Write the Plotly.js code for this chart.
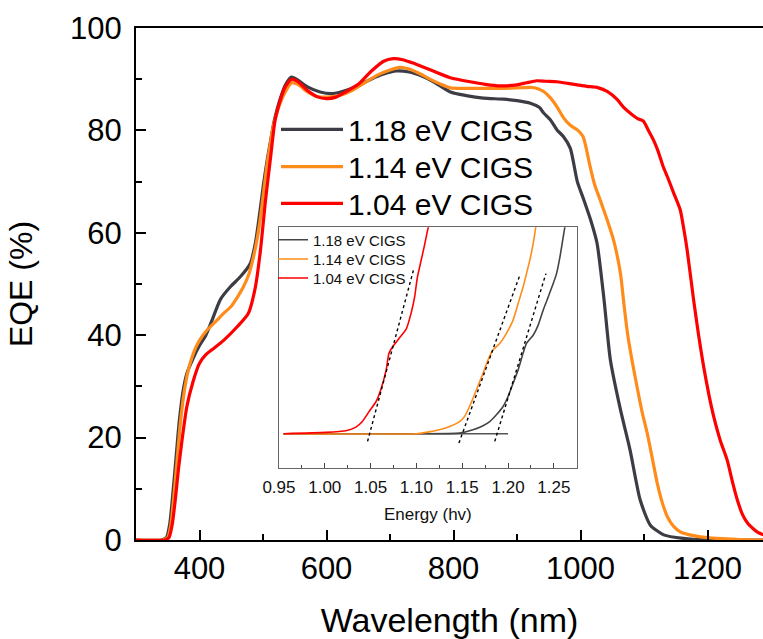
<!DOCTYPE html>
<html>
<head>
<meta charset="utf-8">
<script src="https://cdn.plot.ly/plotly-3.0.1.min.js"></script>
<style>html,body{margin:0;padding:0;background:#fff;overflow:hidden}#chart{width:763px;height:639px}</style>
</head>
<body>
<div id="chart"></div>
<script>
// ---- Main EQE data (wavelength nm, EQE %) ----
const wlGray = [300,340,348,353,358,363,368,374,380,390,400,410,420,433,449,465,480,488,495,501,507,512,517,522,528,535,545,555,570,590,610,630,650,670,690,710,730,750,770,795,820,847,879,900,921,935,942,953,963,973,984,995,1005,1016,1026,1037,1047,1063,1078,1094,1110,1131,1162,1200,1288];
const eqeGray = [0,0,0.5,3,9,16,23,29,32.5,35.5,38,40,43,47,49.5,51.5,54,58,64,69.7,74.5,78,81.5,84,86.5,88.8,90.4,89.8,88.5,87.5,87.2,87.8,88.8,90,91,91.6,91.4,90.6,89.4,87.5,86.8,86.3,86.1,85.8,85.3,84.5,83.4,82,80.1,78.8,76.5,70,66.5,62.5,58,47,35.2,25.4,17.6,7.8,2.9,1.0,0.3,0,0];

const wlOrange = [300,342,350,355,360,365,370,376,382,392,400,412,428,440,449,460,469,478,485,491,496,501,506,511,516,521,527,535,545,555,570,585,600,620,640,660,680,700,715,730,745,760,780,795,820,847,875,900,921,932,942,953,963,973,984,995,1004,1015,1022,1031,1042,1052,1063,1068,1074,1082,1090,1097,1105,1113,1121,1129,1137,1147,1157,1172,1189,1215,1250,1288];
const eqeOrange = [0,0,0.5,3,9,16,23,29,33,37,39,41,43,44.5,45.5,47.5,49.4,52,55.3,59,63,68,73,77,80.7,83,85.3,87.5,89.3,89,87.5,86.6,86.5,86.8,87.8,89.3,90.8,91.8,92.3,92,91.2,90.2,89,88.3,88.2,88.2,88.2,88.3,88.4,88.2,87.6,86.3,84.6,82.5,81,80.1,78.8,73,69.5,66.4,62.5,58.6,52,46.5,40.4,34.5,29.3,25,20.9,16,11,7.2,4.5,2.6,1.6,1.0,0.6,0.3,0.1,0];

const wlRed = [300,345,352,357,362,367,373,380,390,400,410,420,438,459,477,488,496,504,512,519,527,535,545,555,570,585,600,615,630,650,670,690,705,720,735,750,770,795,826,850,873,900,915,931,945,963,980,995,1010,1026,1042,1058,1068,1078,1090,1099,1107,1115,1122,1130,1137,1146,1157,1163,1168,1178,1186,1194,1202,1210,1220,1231,1240,1247,1255,1263,1272,1278,1288];
const eqeRed = [0,0,0.5,3,8,14,20,26,31,34.5,36.2,37.2,39,41.6,44.3,49.4,56.6,66.4,74.8,82,85.8,88.5,90,89.5,87.8,86.6,86.2,86.5,87.5,89,91.5,93.5,94,93.8,93.2,92.5,91.5,90.3,89.5,89,88.7,88.9,89.3,89.7,89.6,89.5,89.2,88.9,88.6,88.4,87.6,86,84.5,83.4,82.3,81.8,80,78.1,76,73,70.9,68,64.5,60.5,56.6,47,40,33.8,28.5,24,19.5,15.6,11,7.8,5,3.3,2.2,1.6,1.0];

// ---- Inset data (photon energy eV, normalised signal) ----
const eGrayIn = [0.955,1.10,1.1471,1.1617,1.1727,1.18,1.1873,1.1946,1.20,1.2055,1.211,1.2164,1.2201,1.2274,1.2329,1.2383,1.2438,1.2493,1.2529,1.2566,1.2602,1.262,1.264];
const vGrayIn = [0,0,0.003,0.019,0.039,0.059,0.092,0.132,0.18,0.244,0.309,0.389,0.437,0.477,0.526,0.598,0.662,0.727,0.775,0.855,0.952,1.0,1.04];
const eOrangeIn = [0.955,1.0997,1.1106,1.1252,1.1362,1.1471,1.1526,1.158,1.1654,1.1727,1.1781,1.1836,1.1909,1.1982,1.2055,1.211,1.2164,1.2201,1.2237,1.2274,1.2303,1.232];
const vOrangeIn = [0,0,0.0064,0.019,0.035,0.059,0.084,0.132,0.212,0.293,0.357,0.405,0.437,0.486,0.55,0.63,0.71,0.775,0.839,0.92,1.0,1.04];
const eRedIn = [0.955,1.001,1.023,1.034,1.041,1.0485,1.056,1.061,1.067,1.070,1.074,1.081,1.089,1.094,1.098,1.101,1.105,1.109,1.112,1.116];
const vRedIn = [0,0.0064,0.0145,0.032,0.059,0.108,0.156,0.212,0.309,0.389,0.421,0.461,0.508,0.580,0.660,0.756,0.836,0.916,0.981,1.05];
const eBase = [0.955,1.20];
const vBase = [0,0];
// tangent (extrapolation) lines
const eTanRed = [1.0467,1.0967], vTanRed = [-0.037,0.791];
const eTanOrange = [1.1464,1.2128], vTanOrange = [-0.045,0.767];
const eTanGray = [1.1855,1.2413], vTanGray = [-0.037,0.775];

const names = ['1.18 eV CIGS','1.14 eV CIGS','1.04 eV CIGS'];
const cGray = '#3c3c44', cOrange = '#ff8c1a', cRed = '#ff0000';
const FONT = 'Liberation Sans, Arial, sans-serif';

const traces = [
  {x: wlGray, y: eqeGray, name: names[0], legend:'legend', mode:'lines', line:{color:cGray,width:3.2,shape:'spline',smoothing:0.6}},
  {x: wlOrange, y: eqeOrange, name: names[1], legend:'legend3', mode:'lines', line:{color:cOrange,width:3.2,shape:'spline',smoothing:0.6}},
  {x: wlRed, y: eqeRed, name: names[2], legend:'legend4', mode:'lines', line:{color:cRed,width:3.2,shape:'spline',smoothing:0.6}},
  {x: eBase, y: vBase, xaxis:'x2', yaxis:'y2', mode:'lines', showlegend:false, line:{color:'#555',width:1.5}, hoverinfo:'skip'},
  {x: eGrayIn, y: vGrayIn, xaxis:'x2', yaxis:'y2', name: names[0], legend:'legend2', mode:'lines', line:{color:'#444',width:1.6,shape:'spline',smoothing:0.5}},
  {x: eOrangeIn, y: vOrangeIn, xaxis:'x2', yaxis:'y2', name: names[1], legend:'legend5', mode:'lines', line:{color:cOrange,width:1.6,shape:'spline',smoothing:0.5}},
  {x: eRedIn, y: vRedIn, xaxis:'x2', yaxis:'y2', name: names[2], legend:'legend6', mode:'lines', line:{color:cRed,width:1.6,shape:'spline',smoothing:0.5}},
  {x: eTanRed, y: vTanRed, xaxis:'x2', yaxis:'y2', mode:'lines', showlegend:false, line:{color:'#000',width:1.4,dash:'3px,3px'}},
  {x: eTanOrange, y: vTanOrange, xaxis:'x2', yaxis:'y2', mode:'lines', showlegend:false, line:{color:'#000',width:1.4,dash:'3px,3px'}},
  {x: eTanGray, y: vTanGray, xaxis:'x2', yaxis:'y2', mode:'lines', showlegend:false, line:{color:'#000',width:1.4,dash:'3px,3px'}}
];

function mainLegend(y){
  return {x:0.2233, y:y, xanchor:'left', yanchor:'middle', bgcolor:'rgba(0,0,0,0)', borderwidth:0,
    font:{size:30, family:FONT, color:'#000'}, itemwidth:62, tracegroupgap:0};
}
function insetLegend(y){
  return {x:0.2185, y:y, xanchor:'left', yanchor:'middle', bgcolor:'rgba(0,0,0,0)', borderwidth:0,
    font:{size:15, family:FONT, color:'#111'}, itemwidth:30, tracegroupgap:0};
}

const layout = {
  width: 763, height: 639,
  margin: {l:136, r:0, t:28, b:99},
  paper_bgcolor:'#fff', plot_bgcolor:'rgba(0,0,0,0)',
  font: {family: FONT, color:'#000'},
  showlegend: true,
  xaxis: {
    domain:[0,1], range:[300,1287.4], showgrid:false, zeroline:false,
    showline:true, linecolor:'#000', linewidth:2, mirror:true,
    ticks:'inside', ticklen:10, tickwidth:2, tickcolor:'#000', dtick:200, tick0:0,
    minor:{ticks:'inside', ticklen:6, tickwidth:2, tickcolor:'#000', dtick:100},
    tickfont:{size:31, family:FONT}, ticklabelstandoff:0,
    title:{text:'Wavelength (nm)', font:{size:34, family:FONT}, standoff:26}
  },
  yaxis: {
    domain:[0,1], range:[0,100], showgrid:false, zeroline:false,
    showline:true, linecolor:'#000', linewidth:2, mirror:false,
    ticks:'inside', ticklen:10, tickwidth:2, tickcolor:'#000', dtick:20,
    minor:{ticks:'inside', ticklen:6, tickwidth:2, tickcolor:'#000', dtick:10},
    tickfont:{size:31, family:FONT}, ticklabelstandoff:6,
    title:{text:'EQE (%)', font:{size:32, family:FONT}, standoff:28}
  },
  xaxis2: {
    domain:[0.228,0.703], anchor:'y2', range:[0.95,1.275], showgrid:false, zeroline:false,
    showline:true, linecolor:'#666', linewidth:1.3, mirror:true,
    ticks:'inside', ticklen:5, tickwidth:1, tickcolor:'#444', dtick:0.05, tick0:0.95,
    minor:{ticks:'inside', ticklen:3, tickwidth:1, tickcolor:'#444', dtick:0.025},
    tickformat:'.2f', tickfont:{size:17, family:FONT, color:'#111'}, ticklabelstandoff:3,
    title:{text:'Energy (hv)', font:{size:17, family:FONT, color:'#111'}, standoff:12}
  },
  yaxis2: {
    domain:[0.1406,0.611], anchor:'x2', range:[-0.166,1.0], showgrid:false, zeroline:false,
    showline:true, linecolor:'#666', linewidth:1.3, mirror:true,
    ticks:'', showticklabels:false
  },
  legend: mainLegend(0.8021),
  legend3: mainLegend(0.7291),
  legend4: mainLegend(0.6576),
  legend2: insetLegend(0.5859),
  legend5: insetLegend(0.5482),
  legend6: insetLegend(0.5111)
};

Plotly.newPlot('chart', traces, layout, {displayModeBar:false, staticPlot:true});
</script>
</body>
</html>
